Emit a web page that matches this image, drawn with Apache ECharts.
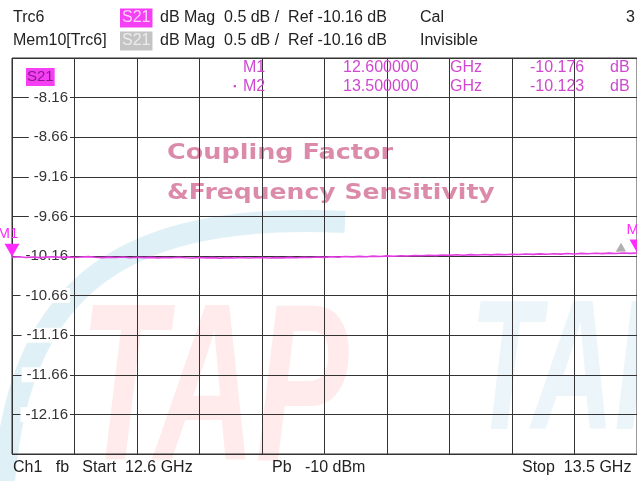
<!DOCTYPE html>
<html>
<head>
<meta charset="utf-8">
<script src="https://cdn.jsdelivr.net/npm/echarts@6/dist/echarts.min.js"></script>
<style>
  html, body { margin: 0; padding: 0; background: #fff; }
  #chart { width: 637px; height: 481px; }
</style>
</head>
<body>
<div id="chart"></div>
<script>
// sweep 12.6 - 13.5 GHz, S21 dB magnitude
const freqs = [
  12.60, 12.61, 12.62, 12.63, 12.64, 12.65, 12.66, 12.67, 12.68, 12.69,
  12.70, 12.71, 12.72, 12.73, 12.74, 12.75, 12.76, 12.77, 12.78, 12.79,
  12.80, 12.81, 12.82, 12.83, 12.84, 12.85, 12.86, 12.87, 12.88, 12.89,
  12.90, 12.91, 12.92, 12.93, 12.94, 12.95, 12.96, 12.97, 12.98, 12.99,
  13.00, 13.01, 13.02, 13.03, 13.04, 13.05, 13.06, 13.07, 13.08, 13.09,
  13.10, 13.11, 13.12, 13.13, 13.14, 13.15, 13.16, 13.17, 13.18, 13.19,
  13.20, 13.21, 13.22, 13.23, 13.24, 13.25, 13.26, 13.27, 13.28, 13.29,
  13.30, 13.31, 13.32, 13.33, 13.34, 13.35, 13.36, 13.37, 13.38, 13.39,
  13.40, 13.41, 13.42, 13.43, 13.44, 13.45, 13.46, 13.47, 13.48, 13.49,
  13.50
]
const s21 = [
  -10.176, -10.170, -10.178, -10.172, -10.180, -10.174, -10.169, -10.177, -10.171, -10.179,
  -10.173, -10.168, -10.176, -10.181, -10.174, -10.178, -10.172, -10.182, -10.176, -10.180,
  -10.177, -10.184, -10.178, -10.183, -10.176, -10.182, -10.186, -10.179, -10.184, -10.180,
  -10.187, -10.181, -10.185, -10.179, -10.186, -10.182, -10.178, -10.185, -10.180, -10.184,
  -10.177, -10.182, -10.175, -10.179, -10.172, -10.177, -10.170, -10.174, -10.167, -10.171,
  -10.165, -10.169, -10.162, -10.166, -10.159, -10.163, -10.156, -10.160, -10.153, -10.157,
  -10.150, -10.155, -10.148, -10.152, -10.145, -10.150, -10.143, -10.147, -10.141, -10.146,
  -10.139, -10.144, -10.137, -10.142, -10.135, -10.140, -10.133, -10.138, -10.131, -10.136,
  -10.129, -10.134, -10.127, -10.132, -10.126, -10.130, -10.124, -10.129, -10.122, -10.127,
  -10.123
]

const markerNames = ['M1', 'M2']
const markerFreqs = [12.6, 13.5]
const markerValues = [-10.176, -10.123]

const scaleDiv = 0.5
const yMin = -12.66
const yMax = -7.66
const xMin = 12.6
const xMax = 13.5
const xStep = 0.09

const font = 'Liberation Sans, Arial, sans-serif'
const trcColor = '#e23ce2'
const mkColor = '#cf48cf'
const titleColor = 'rgba(210,110,148,0.8)'

const chart = echarts.init(document.getElementById('chart'))

const txt = (x, y, text, extra) => ({
  type: 'text', x, y, z: 10,
  style: Object.assign({
    text, fill: '#222', font: '16px ' + font, textVerticalAlign: 'middle'
  }, extra || {})
})

const option = {
  backgroundColor: '#fff',
  animation: false,
  grid: {
    left: 12, right: 0, top: 58, bottom: 27,
    show: true, borderColor: '#333', borderWidth: 1
  },
  xAxis: {
    type: 'value', min: xMin, max: xMax, interval: xStep,
    axisLine: { show: false }, axisTick: { show: false }, axisLabel: { show: false },
    splitLine: { lineStyle: { color: '#333', width: 1 } }
  },
  yAxis: [
    {
      type: 'value', min: yMin, max: yMax, interval: scaleDiv,
      axisLine: { show: false }, axisTick: { show: false }, axisLabel: { show: false },
      splitLine: { lineStyle: { color: '#333', width: 1 } }
    },
    {
      type: 'value', min: yMin, max: yMax, interval: scaleDiv,
      position: 'left', offset: -63, z: 1,
      axisLine: { show: false }, axisTick: { show: false }, splitLine: { show: false },
      axisLabel: {
        showMinLabel: false, showMaxLabel: false, margin: 5,
        formatter: v => v.toFixed(2),
        color: '#333', fontSize: 15, fontFamily: font,
        backgroundColor: '#fff', padding: [0, 2, 0, 5]
      }
    }
  ],
  graphic: [
    // watermark
    {
      type: 'bezierCurve', z: -5, silent: true,
      shape: { x1: 4, y1: 481, cpx1: 20, cpy1: 280, cpx2: 130, cpy2: 212, x2: 345, y2: 222 },
      style: { stroke: 'rgba(150,205,225,0.3)', lineWidth: 22, fill: null }
    },
    {
      type: 'text', z: -5, silent: true, x: 80, y: 285, scaleX: 0.62,
      style: { text: 'TAP', fill: 'rgba(255,70,70,0.11)', font: 'italic bold 225px ' + font }
    },
    {
      type: 'text', z: -5, silent: true, x: 470, y: 285, scaleX: 0.62,
      style: { text: 'TAP', fill: 'rgba(120,190,220,0.15)', font: 'italic bold 185px ' + font }
    },
    {
      type: 'text', z: -4, silent: true, x: 167, y: 153, scaleX: 1.16,
      style: { text: 'Coupling Factor', fill: titleColor, font: 'bold 22px DejaVu Sans', textVerticalAlign: 'middle' }
    },
    {
      type: 'text', z: -4, silent: true, x: 167, y: 193, scaleX: 1.14,
      style: { text: '&Frequency Sensitivity', fill: titleColor, font: 'bold 22px DejaVu Sans', textVerticalAlign: 'middle' }
    },
    // header
    txt(13, 18, 'Trc6'),
    txt(120, 18, 'S21', { fill: '#ffd0ff', backgroundColor: '#f53ff5', padding: [2, 2, 1, 2] }),
    txt(160, 18, 'dB Mag  0.5 dB /  Ref -10.16 dB'),
    txt(420, 18, 'Cal'),
    txt(626, 18, '3'),
    txt(13, 41, 'Mem10[Trc6]'),
    txt(120, 41, 'S21', { fill: '#ececec', backgroundColor: '#c4c4c4', padding: [2, 2, 1, 2] }),
    txt(160, 41, 'dB Mag  0.5 dB /  Ref -10.16 dB'),
    txt(420, 41, 'Invisible'),
    // trace tag inside the plot
    txt(26, 77, 'S21', { fill: '#8a1a8a', backgroundColor: '#f53ff5', padding: [2, 1, 1, 1], font: '15px ' + font }),
    // marker table
    txt(243, 68, markerNames[0], { fill: mkColor }),
    txt(343, 68, markerFreqs[0].toFixed(6), { fill: mkColor }),
    txt(450, 68, 'GHz', { fill: mkColor }),
    txt(530, 68, markerValues[0].toFixed(3), { fill: mkColor }),
    txt(610, 68, 'dB', { fill: mkColor }),
    txt(233, 87, '\u25aa', { fill: mkColor, font: '9px ' + font }),
    txt(243, 87, markerNames[1], { fill: mkColor }),
    txt(343, 87, markerFreqs[1].toFixed(6), { fill: mkColor }),
    txt(450, 87, 'GHz', { fill: mkColor }),
    txt(530, 87, markerValues[1].toFixed(3), { fill: mkColor }),
    txt(610, 87, 'dB', { fill: mkColor }),
    // footer
    txt(13, 468, 'Ch1   fb   Start  12.6 GHz'),
    txt(272, 468, 'Pb   -10 dBm'),
    txt(522, 468, 'Stop  13.5 GHz')
  ],
  series: [{
    type: 'line',
    yAxisIndex: 0,
    data: freqs.map((f, i) => [f, s21[i]]),
    showSymbol: false,
    z: 3,
    lineStyle: { color: trcColor, width: 1.6 },
    markPoint: {
      symbol: 'triangle',
      symbolRotate: 180,
      symbolSize: [15, 13],
      symbolOffset: [0, -7],
      itemStyle: { color: '#ff2cff' },
      label: {
        show: true, position: 'top', distance: 2,
        color: '#ff2cff', fontSize: 15, fontFamily: font,
        formatter: p => p.name
      },
      data: markerNames.map((n, i) => ({
        name: n, coord: [markerFreqs[i], markerValues[i]],
        label: { offset: [i === 0 ? -4 : 0, 0] }
      })).concat([{
        name: '', coord: [13.475, -10.165], symbolSize: [10, 9], symbolRotate: 120,
        itemStyle: { color: '#b0b0b0' }, label: { show: false }
      }])
    }
  }]
}

chart.setOption(option)
</script>
</body>
</html>
